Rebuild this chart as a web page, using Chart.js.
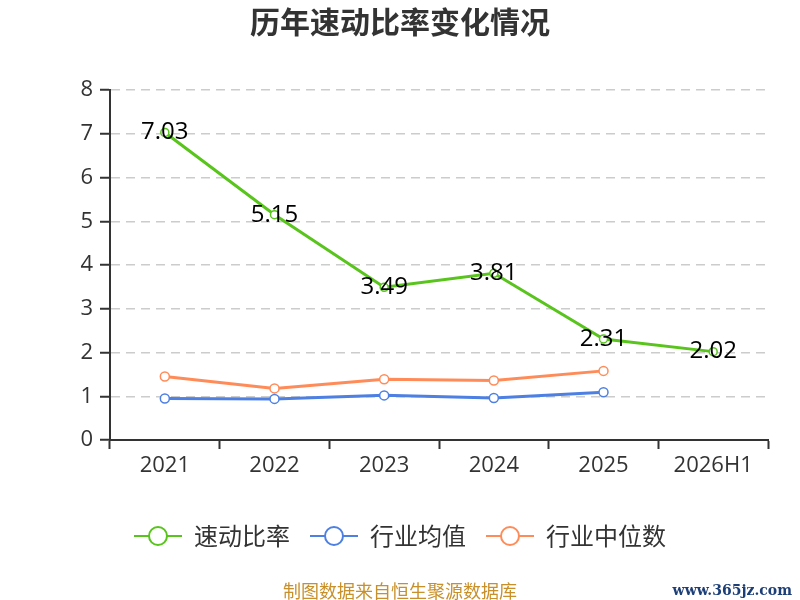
<!DOCTYPE html>
<html>
<head>
<meta charset="utf-8">
<script src="https://cdn.jsdelivr.net/npm/chart.js@4/dist/chart.umd.min.js"></script>
<style>
  body { margin: 0; background: #fff; }
  #wrap { position: relative; width: 800px; height: 600px; }
  #footer { position: absolute; left: 0; width: 800px; top: 577px; text-align: center; font: 18px "Noto Sans CJK SC"; line-height: 26px; color: #c8902a; }
  #site { position: absolute; right: 8px; top: 579px; font: bold 14px "DejaVu Serif", serif; line-height: 22px; color: #1d3f77; }
</style>
</head>
<body>
<div id="wrap">
  <canvas id="chart" width="800" height="600"></canvas>
  <div id="footer">制图数据来自恒生聚源数据库</div>
  <div id="site">www.365jz.com</div>
</div>
<script>
const categories = ["2021", "2022", "2023", "2024", "2025", "2026H1"];
const quickRatio = [7.03, 5.15, 3.49, 3.81, 2.31, 2.02];
const industryAvg = [0.95, 0.94, 1.02, 0.96, 1.09, null];
const industryMedian = [1.45, 1.18, 1.39, 1.36, 1.58, null];
const yTicks = [0, 1, 2, 3, 4, 5, 6, 7, 8];

const font = '"Noto Sans CJK SC", "Noto Sans", sans-serif';
const numFont = '"Open Sans", "Noto Sans", sans-serif';

// legend symbol: short line with a hollow circle
function legendIcon(color) {
  let c = document.createElement("canvas");
  c.width = 48; c.height = 24;
  let g = c.getContext("2d");
  g.strokeStyle = color;
  g.lineWidth = 2;
  g.beginPath();
  g.moveTo(0, 12); g.lineTo(48, 12);
  g.stroke();
  g.beginPath();
  g.arc(24, 12, 9, 0, Math.PI * 2);
  g.fillStyle = "#fff";
  g.fill();
  g.stroke();
  return c;
}

const valueLabels = {
  id: "valueLabels",
  afterDatasetsDraw(chart) {
    let ctx = chart.ctx;
    let meta = chart.getDatasetMeta(0);
    ctx.save();
    ctx.font = "24px " + numFont;
    ctx.fillStyle = "#000";
    ctx.textAlign = "center";
    ctx.textBaseline = "middle";
    meta.data.forEach(function(pt, i) {
      ctx.fillText(quickRatio[i].toFixed(2), pt.x, pt.y);
    });
    ctx.restore();
  }
};

const ctx = document.getElementById("chart").getContext("2d");
new Chart(ctx, {
  type: "line",
  data: {
    labels: categories,
    datasets: [
      {
        label: "速动比率",
        data: quickRatio,
        borderColor: "#58c41c",
        backgroundColor: "#fff",
        borderWidth: 3,
        pointRadius: 4,
        pointBorderWidth: 1.5,
        icon: legendIcon("#58c41c")
      },
      {
        label: "行业均值",
        data: industryAvg,
        borderColor: "#4d80e2",
        backgroundColor: "#fff",
        borderWidth: 3,
        pointRadius: 4.5,
        pointBorderWidth: 1.5,
        icon: legendIcon("#4d80e2")
      },
      {
        label: "行业中位数",
        data: industryMedian,
        borderColor: "#ff8c58",
        backgroundColor: "#fff",
        borderWidth: 3,
        pointRadius: 4.5,
        pointBorderWidth: 1.5,
        icon: legendIcon("#ff8c58")
      }
    ]
  },
  options: {
    responsive: false,
    animation: false,
    layout: { padding: { left: 0, right: 0, top: 0, bottom: 42 } },
    plugins: {
      title: {
        display: true,
        text: "历年速动比率变化情况",
        font: { family: font, size: 30, weight: "bold" },
        color: "#333",
        padding: { top: 4, bottom: 50 }
      },
      legend: {
        position: "bottom",
        labels: {
          font: { family: font, size: 24 },
          color: "#333",
          usePointStyle: true,
          pointStyleWidth: 48,
          padding: 20,
          generateLabels: function(chart) {
            return chart.data.datasets.map(function(ds, i) {
              return {
                text: ds.label,
                pointStyle: ds.icon,
                fillStyle: "#fff",
                strokeStyle: ds.borderColor,
                fontColor: "#333",
                datasetIndex: i
              };
            });
          }
        }
      },
      tooltip: { enabled: false }
    },
    scales: {
      x: {
        offset: true,
        afterFit: function(scale) { scale.height = 64; },
        grid: { display: true, drawOnChartArea: false, offset: true, tickLength: 9, tickWidth: 2, tickColor: "#333" },
        border: { color: "#333", width: 2 },
        ticks: { font: { family: numFont, size: 22 }, color: "#333", padding: 4 }
      },
      y: {
        min: 0,
        max: 8,
        afterBuildTicks: function(axis) {
          axis.ticks = yTicks.map(function(v) { return { value: v }; });
        },
        afterFit: function(scale) { scale.width = 110; },
        grid: { color: "#ccc", lineWidth: 1.5, tickLength: 10, tickWidth: 2, tickColor: "#333" },
        border: { color: "#333", width: 2, dash: [9, 6] },
        ticks: { font: { family: numFont, size: 22 }, color: "#333", padding: 7 }
      },
      // empty right-hand axis, only to keep a margin on the right
      yRight: {
        position: "right",
        min: 0,
        max: 8,
        afterFit: function(scale) { scale.width = 32; },
        grid: { display: false },
        border: { display: false },
        ticks: { display: false }
      }
    }
  },
  plugins: [valueLabels]
});
</script>
</body>
</html>
